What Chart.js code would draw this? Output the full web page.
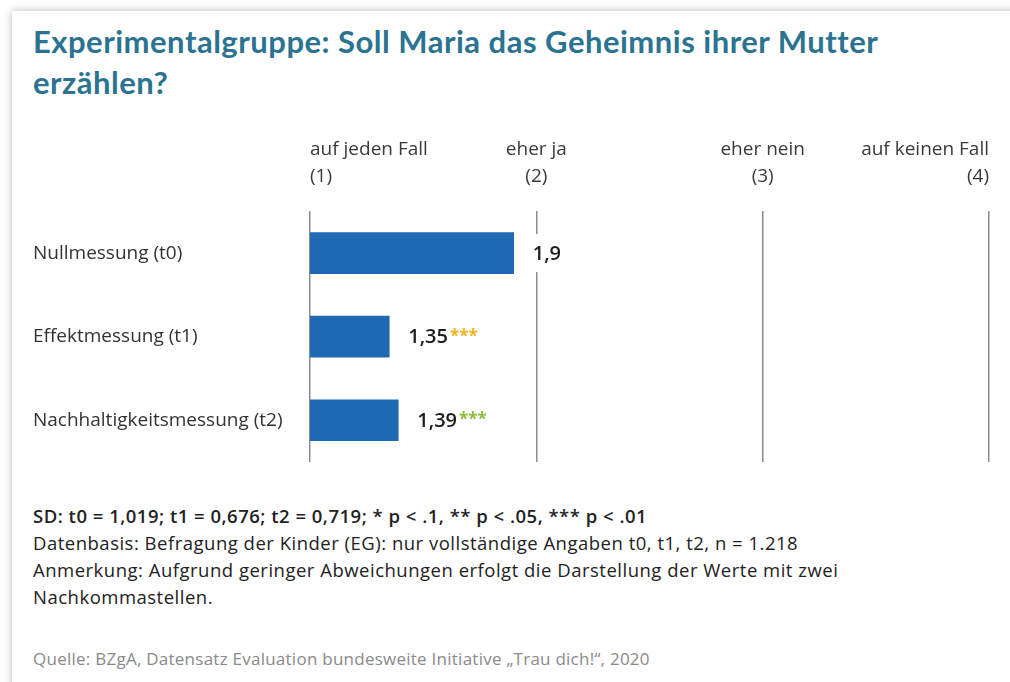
<!DOCTYPE html>
<html lang="de">
<head>
<meta charset="utf-8">
<title>Experimentalgruppe: Soll Maria das Geheimnis ihrer Mutter erzählen?</title>
<script src="https://cdn.jsdelivr.net/npm/chart.js@4.4.1/dist/chart.umd.min.js"></script>
<style>
    html, body { margin: 0; padding: 0; background: #fff; }
    body { width: 1010px; height: 682px; position: relative; overflow: hidden; font-family: "Open Sans", sans-serif; }
    .card { position: absolute; left: 12px; top: 11px; width: 1030px; height: 700px; background: #fff; box-shadow: 0 0 8px rgba(0, 0, 0, 0.28); }
    h1 { position: absolute; left: 33px; top: 21px; margin: 0; width: 960px; font: 700 31px/41px Lato, sans-serif; letter-spacing: 0.5px; color: #2b7391; }
    .chart-box { position: absolute; left: 0; top: 110px; width: 1010px; height: 370px; }
    .notes { position: absolute; left: 33px; top: 502px; font: 400 18.5px/27px "Open Sans", sans-serif; letter-spacing: 0.5px; color: #222; }
    .notes b { font-weight: 600; }
    .source { position: absolute; left: 33px; top: 648px; font: 400 17px/22px "Open Sans", sans-serif; letter-spacing: 0.25px; color: #8a8a8a; }
</style>
</head>
<body>
<div class="card"></div>
<h1>Experimentalgruppe: Soll Maria das Geheimnis ihrer Mutter<br>erzählen?</h1>
<div class="chart-box"><canvas id="chart"></canvas></div>
<div class="notes">
    <b>SD: t0 = 1,019; t1 = 0,676; t2 = 0,719; * p &lt; .1, ** p &lt; .05, *** p &lt; .01</b><br>
    Datenbasis: Befragung der Kinder (EG): nur vollständige Angaben t0, t1, t2, n = 1.218<br>
    Anmerkung: Aufgrund geringer Abweichungen erfolgt die Darstellung der Werte mit zwei<br>
    Nachkommastellen.
</div>
<div class="source">Quelle: BZgA, Datensatz Evaluation bundesweite Initiative „Trau dich!“, 2020</div>

<script>
// data
const categories = ['Nullmessung (t0)', 'Effektmessung (t1)', 'Nachhaltigkeitsmessung (t2)'];
const means = [1.9, 1.35, 1.39];
const valueLabels = ['1,9', '1,35', '1,39'];
const stars = ['', '***', '***'];
const starColors = ['', '#f1b320', '#8dbd3c'];
const scaleLabels = {
    1: ['auf jeden Fall', '(1)'],
    2: ['eher ja', '(2)'],
    3: ['eher nein', '(3)'],
    4: ['auf keinen Fall', '(4)']
};

// value labels next to the bars, with a white box so they cut the grid line
const valueLabelPlugin = {
    id: 'valueLabels',
    afterDatasetsDraw(chart) {
        const ctx = chart.ctx;
        const meta = chart.getDatasetMeta(0);
        ctx.save();
        meta.data.forEach(function(bar, i) {
            const x = bar.x + 19;
            const y = bar.y;
            ctx.font = '600 20px "Open Sans", sans-serif';
            const w = ctx.measureText(valueLabels[i]).width;
            ctx.font = '700 17px "Open Sans", sans-serif';
            const sw = stars[i] ? ctx.measureText(stars[i]).width + 2 : 0;
            ctx.fillStyle = '#fff';
            ctx.fillRect(x - 6, y - 19, w + sw + 12, 38);

            ctx.font = '600 20px "Open Sans", sans-serif';
            ctx.fillStyle = '#1e1e1e';
            ctx.textAlign = 'left';
            ctx.textBaseline = 'middle';
            ctx.fillText(valueLabels[i], x, y + 1);
            if (stars[i]) {
                ctx.font = '700 17px "Open Sans", sans-serif';
                ctx.fillStyle = starColors[i];
                ctx.fillText(stars[i], x + w + 2, y);
            }
        });
        ctx.restore();
    }
};

document.addEventListener('DOMContentLoaded', function() {
    const ctx = document.getElementById('chart').getContext('2d');
    new Chart(ctx, {
        type: 'bar',
        data: {
            labels: categories,
            datasets: [{
                data: means,
                backgroundColor: '#1f68b4',
                borderWidth: 0,
                barThickness: 41
            }]
        },
        options: {
            indexAxis: 'y',
            responsive: true,
            maintainAspectRatio: false,
            animation: false,
            layout: {
                padding: { left: 33, right: 21, top: 5, bottom: 18 }
            },
            plugins: {
                legend: { display: false },
                tooltip: { enabled: false }
            },
            scales: {
                x: {
                    position: 'top',
                    min: 1,
                    max: 4,
                    beginAtZero: false,
                    border: { display: false },
                    grid: {
                        color: '#8c8c8c',
                        lineWidth: 1.5,
                        drawTicks: false
                    },
                    ticks: {
                        stepSize: 1,
                        align: 'inner',
                        padding: 21,
                        color: '#3a3a3a',
                        font: { family: '"Open Sans", sans-serif', size: 19, weight: 400, lineHeight: 1.43 },
                        callback: function(value) {
                            return scaleLabels[value] || '';
                        }
                    }
                },
                y: {
                    border: { display: false },
                    grid: { display: false },
                    afterFit: function(axis) {
                        axis.width = 277;
                    },
                    ticks: {
                        crossAlign: 'far',
                        color: '#333',
                        font: { family: '"Open Sans", sans-serif', size: 19, weight: 400 }
                    }
                }
            }
        },
        plugins: [valueLabelPlugin]
    });
});
</script>
</body>
</html>
